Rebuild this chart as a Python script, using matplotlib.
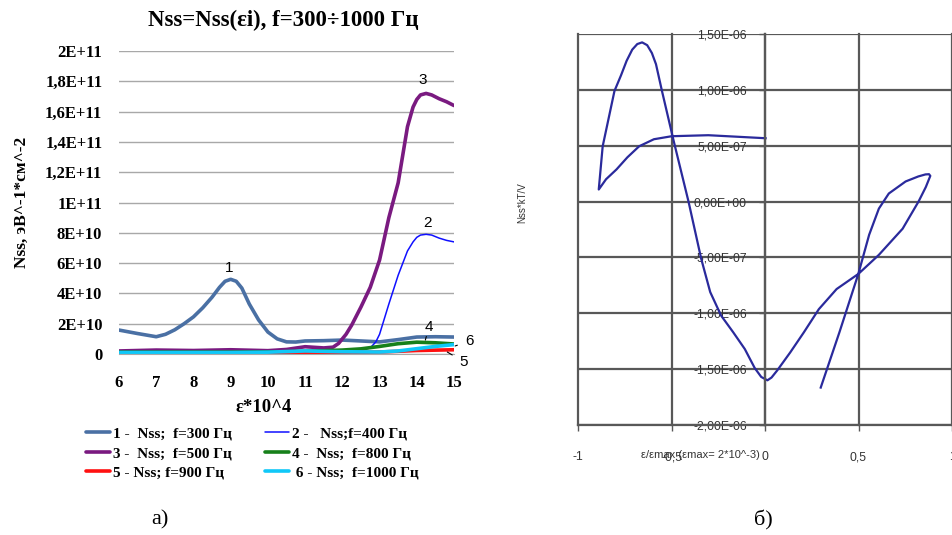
# Imports
import matplotlib
matplotlib.use('Agg')
import matplotlib.pyplot as plt

# Plot configuration
plt.rcParams['font.family'] = ['Liberation Serif', 'DejaVu Serif']
plt.rcParams['axes.unicode_minus'] = False

W, H = 952, 535

# ---- panel a): Nss(eps) at several frequencies ----
eps1 = [6, 6.5, 7, 7.25, 7.5, 7.75, 8, 8.25, 8.5, 8.7, 8.85, 9, 9.15, 9.3, 9.5, 9.75, 10, 10.25,
        10.5, 10.75, 11, 11.5, 12, 12.5, 13, 13.5, 14, 14.5, 15]
nss1 = [1.58e10, 1.35e10, 1.14e10, 1.3e10, 1.6e10, 2.0e10, 2.45e10, 3.05e10, 3.75e10, 4.4e10,
        4.8e10, 4.93e10, 4.8e10, 4.35e10, 3.3e10, 2.25e10, 1.45e10, 1.0e10, 8.0e9, 7.9e9, 8.6e9,
        8.8e9, 9.2e9, 8.6e9, 8.0e9, 9.5e9, 1.12e10, 1.14e10, 1.12e10]

eps2 = [6, 7, 8, 9, 10, 11, 12, 12.5, 12.75, 12.9, 13, 13.25, 13.5, 13.75, 13.9, 14, 14.1, 14.25,
        14.4, 14.6, 14.8, 15]
nss2 = [1.0e9, 1.0e9, 1.0e9, 1.2e9, 1.2e9, 1.5e9, 2.0e9, 2.5e9, 4.0e9, 8.0e9, 1.3e10, 3.3e10,
        5.2e10, 6.8e10, 7.4e10, 7.7e10, 7.85e10, 7.9e10, 7.85e10, 7.65e10, 7.5e10, 7.4e10]

eps3 = [6, 7, 8, 9, 10, 10.5, 11, 11.5, 11.75, 11.9, 12, 12.1, 12.25, 12.5, 12.75, 13, 13.25, 13.5,
        13.75, 13.9, 14, 14.1, 14.25, 14.4, 14.6, 14.8, 15]
nss3 = [2.0e9, 2.6e9, 2.3e9, 2.8e9, 2.2e9, 3.0e9, 4.8e9, 4.0e9, 4.5e9, 7.0e9, 1.0e10, 1.3e10,
        1.9e10, 3.1e10, 4.4e10, 6.2e10, 9.0e10, 1.13e11, 1.5e11, 1.63e11, 1.68e11, 1.71e11,
        1.72e11, 1.71e11, 1.685e11, 1.665e11, 1.64e11]

eps4 = [6, 7, 8, 9, 10, 11, 11.5, 12, 12.5, 13, 13.5, 14, 14.5, 15]
nss4 = [1.2e9, 1.2e9, 1.2e9, 1.2e9, 1.3e9, 1.8e9, 2.2e9, 2.6e9, 3.4e9, 5.0e9, 6.8e9, 7.8e9, 7.4e9, 6.6e9]

eps5 = [6, 7, 8, 9, 10, 11, 12, 13, 14, 15]
nss5 = [5e8, 5e8, 5e8, 5e8, 6e8, 8e8, 1.0e9, 1.3e9, 2.3e9, 2.8e9]

eps6 = [6, 7, 8, 9, 10, 11, 12, 13, 13.5, 14, 14.5, 15]
nss6 = [1.0e9, 1.0e9, 1.0e9, 1.0e9, 1.2e9, 2.0e9, 1.5e9, 1.3e9, 2.0e9, 3.5e9, 5.0e9, 6.2e9]

labels = ['1 -  Nss;  f=300 Гц', '2 -   Nss;f=400 Гц', '3 -  Nss;  f=500 Гц',
          '4 -  Nss;  f=800 Гц', '5 - Nss; f=900 Гц', ' 6 - Nss;  f=1000 Гц']
colors = ['#4a70a4', '#1010ff', '#7a1a80', '#16801a', '#ff1010', '#10c8f8']
widths = [2.6, 1.1, 2.6, 2.6, 2.6, 2.6]

yticks_a = [0, 2e10, 4e10, 6e10, 8e10, 1e11, 1.2e11, 1.4e11, 1.6e11, 1.8e11, 2e11]
yticklabels_a = ['0', '2E+10', '4E+10', '6E+10', '8E+10', '1E+11', '1,2E+11', '1,4E+11',
                 '1,6E+11', '1,8E+11', '2E+11']

# ---- panel b): Nss*kT/V vs eps/eps_max loop ----
eps_rel = [0.298, 0.398, 0.499, 0.557, 0.609, 0.662, 0.752, 0.820, 0.858, 0.877, 0.884, 0.860,
           0.821, 0.736, 0.609, 0.499, 0.383, 0.288, 0.208, 0.135, 0.066, 0.035, 0.013, -0.020,
           -0.055, -0.108, -0.170, -0.235, -0.293, -0.341, -0.409, -0.488, -0.551, -0.583, -0.605,
           -0.630, -0.657, -0.683, -0.710, -0.740, -0.770, -0.805, -0.868, -0.889, -0.850, -0.794,
           -0.736, -0.673, -0.594, -0.499, -0.303, 0.003]
nss_kt = [-1.665e-6, -1.17e-6, -6.48e-7, -2.97e-7, -6.3e-8, 7.2e-8, 1.8e-7, 2.25e-7, 2.43e-7,
          2.45e-7, 2.3e-7, 1.3e-7, 0.0, -2.43e-7, -4.77e-7, -6.48e-7, -7.83e-7, -9.63e-7, -1.17e-6,
          -1.35e-6, -1.51e-6, -1.575e-6, -1.60e-6, -1.57e-6, -1.49e-6, -1.32e-6, -1.17e-6, -1.02e-6,
          -8.1e-7, -5.13e-7, 0.0, 5.4e-7, 9.9e-7, 1.23e-6, 1.33e-6, 1.40e-6, 1.425e-6, 1.41e-6,
          1.36e-6, 1.26e-6, 1.13e-6, 9.9e-7, 4.95e-7, 1.08e-7, 2.0e-7, 2.88e-7, 3.96e-7, 4.95e-7,
          5.58e-7, 5.85e-7, 5.94e-7, 5.67e-7]

yticks_b = [-2e-6, -1.5e-6, -1e-6, -5e-7, 0, 5e-7, 1e-6, 1.5e-6]
yticklabels_b = ['-2,00E-06', '-1,50E-06', '-1,00E-06', '-5,00E-07', '0,00E+00', '5,00E-07',
                 '1,00E-06', '1,50E-06']
xticks_b = [-1, -0.5, 0, 0.5, 1]
xticklabels_b = ['-1', '-0,5', '0', '0,5', '1']


def fx(px):
    return px / W


def fy(py):
    return 1 - py / H


fig = plt.figure(figsize=(W / 100, H / 100), dpi=100)

# ---------------- panel a ----------------
ax = fig.add_axes([fx(119), fy(354), fx(454) - fx(119), fy(51) - fy(354)])
series = [(eps1, nss1), (eps2, nss2), (eps3, nss3), (eps4, nss4), (eps5, nss5), (eps6, nss6)]
lines = []
for (xs, ys), c, lw, lab in zip(series, colors, widths, labels):
    ln, = ax.plot(xs, ys, color=c, lw=lw, label=lab, solid_joinstyle='round', solid_capstyle='round')
    lines.append(ln)

ax.set_xlim(6, 15)
ax.set_ylim(0, 2e11)
ax.set_xticks(range(6, 16))
ax.set_yticks(yticks_a)
ax.set_yticklabels(yticklabels_a)
ax.tick_params(axis='x', length=0, pad=15, labelsize=12)
ax.tick_params(axis='y', length=0, pad=12, labelsize=12)
for t in ax.get_xticklabels() + ax.get_yticklabels():
    t.set_fontweight('bold')
ax.grid(axis='y', color='#a8a8a8', lw=1)
ax.set_axisbelow(True)
for s in ['left', 'right', 'top']:
    ax.spines[s].set_visible(False)
ax.spines['bottom'].set_color('#a8a8a8')

fig.text(fx(283), fy(20), 'Nss=Nss(εi), f=300÷1000 Гц', ha='center', va='center',
         fontsize=16.5, fontweight='bold')
fig.text(fx(22), fy(202), 'Nss, эВ^-1*см^-2', rotation=90, ha='center', va='center',
         fontsize=12.5, fontweight='bold')
fig.text(fx(264), fy(408), 'ε*10^4', ha='center', va='center', fontsize=13.5, fontweight='bold')

# curve numbers
ax.text(8.96, 5.7e10, '1', ha='center', va='center', fontsize=11, family='Liberation Sans')
ax.text(14.28, 8.65e10, '2', ha='center', va='center', fontsize=11, family='Liberation Sans')
ax.text(14.17, 1.81e11, '3', ha='center', va='center', fontsize=11, family='Liberation Sans')
leader = dict(arrowstyle='-', lw=0.8, shrinkA=4, shrinkB=0)
ax.annotate('4', xy=(14.23, 9.2e9), xytext=(14.33, 1.8e10), ha='center', va='center',
            arrowprops=leader, annotation_clip=False, fontsize=11, family='Liberation Sans')
ax.annotate('6', xy=(15.03, 5.3e9), xytext=(15.42, 8.6e9), ha='center', va='center',
            arrowprops=leader, annotation_clip=False, fontsize=11, family='Liberation Sans')
ax.annotate('5', xy=(14.82, 1.3e9), xytext=(15.27, -5.3e9), ha='center', va='center',
            arrowprops=leader, annotation_clip=False, fontsize=11, family='Liberation Sans')

order = [0, 2, 4, 1, 3, 5]
fig.legend([lines[i] for i in order], [labels[i] for i in order], ncol=2, loc='upper left',
           bbox_to_anchor=(fx(86), fy(427)), frameon=False, handlelength=1.55, handletextpad=0.2,
           columnspacing=2.2, labelspacing=0.38, borderpad=0, borderaxespad=0,
           prop={'family': 'Liberation Serif', 'weight': 'bold', 'size': 11})

fig.text(fx(160), fy(520), 'а)', ha='center', va='center', fontsize=16)

# ---------------- panel b ----------------
gridc = '#585858'
ax2 = fig.add_axes([fx(578), fy(425), 1 - fx(578), fy(34) - fy(425)])
ax2.plot(eps_rel, nss_kt, color='#2a2a9c', lw=1.6, solid_joinstyle='round')
ax2.set_xlim(-1, (W - 767.5) / 189.5)
ax2.set_ylim(-2e-6, 1.5e-6)
ax2.set_xticks(xticks_b)
ax2.set_xticklabels(xticklabels_b)
ax2.set_yticks(yticks_b)
ax2.set_yticklabels(yticklabels_b)
ax2.grid(True, color=gridc, lw=1.6)
ax2.set_axisbelow(True)
for gl in ax2.get_xgridlines() + ax2.get_ygridlines():
    gl.set_clip_on(False)
ax2.spines['right'].set_visible(False)
ax2.spines['top'].set_visible(False)
ax2.spines['left'].set_position(('data', 0))
for s in ['left', 'bottom']:
    ax2.spines[s].set_color(gridc)
    ax2.spines[s].set_linewidth(1.6)
ax2.tick_params(axis='y', direction='out', length=4, width=1, color=gridc, pad=9,
                labelsize=8.8, labelcolor='#333333')
ax2.tick_params(axis='x', direction='out', length=4, width=1, color=gridc, pad=15,
                labelsize=8.8, labelcolor='#333333')
for t in ax2.get_xticklabels() + ax2.get_yticklabels():
    t.set_family('Liberation Sans')

fig.text(fx(700), fy(455), 'ε/εmax (εmax= 2*10^-3)', ha='center', va='center', fontsize=8,
         family='Liberation Sans', color='#333333')
fig.text(fx(522), fy(203), 'Nss*kT/V', rotation=90, ha='center', va='center', fontsize=7,
         family='Liberation Sans', color='#333333')

fig.text(fx(763), fy(520), 'б)', ha='center', va='center', fontsize=16)

plt.savefig('out.png', dpi=100)
